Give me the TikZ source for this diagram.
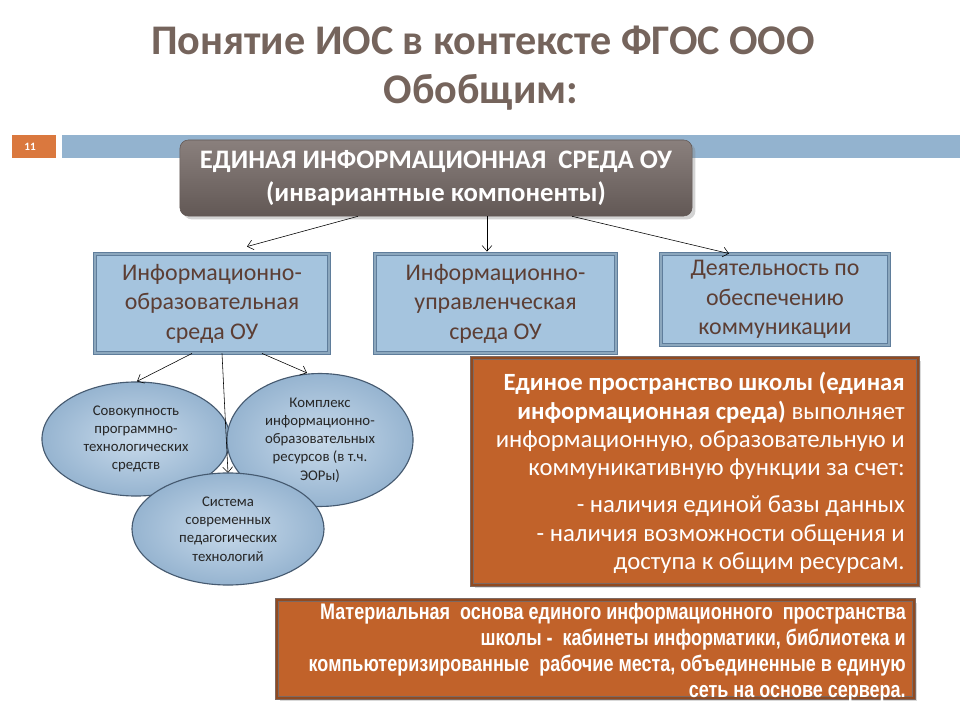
\documentclass[tikz,border=0pt]{standalone}
\usepackage{fontspec}
\setmainfont{Carlito}
\newfontfamily\narrowfont[FakeStretch=0.8]{Liberation Sans}
\usetikzlibrary{calc,shapes.geometric,shadows,arrows.meta}
\definecolor{titlegray}{RGB}{117,100,92}
\definecolor{barblue}{RGB}{147,179,207}
\definecolor{numorange}{RGB}{218,120,62}
\definecolor{topdark}{RGB}{98,88,85}
\definecolor{toplight}{RGB}{138,128,125}
\definecolor{boxfill}{RGB}{165,196,222}
\definecolor{boxedge}{RGB}{95,125,155}
\definecolor{boxtext}{RGB}{92,62,52}
\definecolor{ellin}{RGB}{200,218,235}
\definecolor{ellout}{RGB}{150,180,208}
\definecolor{elledge}{RGB}{70,90,112}
\definecolor{rust}{RGB}{193,98,42}
\definecolor{rustedge}{RGB}{125,105,98}
\tikzset{
  >={Straight Barb[length=4pt,width=7pt]},
  titletext/.style={font=\bfseries\fontsize{30}{36}\selectfont, text=titlegray},
  topbox/.style={rounded corners=6pt, top color=toplight, bottom color=topdark,
    draw=topdark, drop shadow={opacity=0.35}, text=white, align=center,
    font=\bfseries\fontsize{19}{24}\selectfont},
  bluebox/.style={rectangle, fill=boxfill, draw=boxedge, line width=0.6pt,
    double=boxfill!85!black, double distance=1.2pt, text=boxtext, align=center,
    font=\fontsize{17}{21}\selectfont},
  bubble/.style={ellipse, inner color=ellin, outer color=ellout, draw=elledge,
    line width=0.8pt, align=center, text=black!85, font=\fontsize{10.5}{13}\selectfont},
  rustbox/.style={rectangle, fill=rust, draw=rustedge, line width=1pt,
    double=rust!75!black, double distance=1pt, drop shadow={opacity=0.3}, text=white},
  arr/.style={->, thin, black}
}
\begin{document}
\begin{tikzpicture}[x=0.025cm, y=-0.025cm]
  \useasboundingbox (0,0) rectangle (960,720);
  % title
  \node[titletext] (title) at (483,40) {Понятие ИОС в контексте ФГОС ООО};
  \node[titletext] (subtitle) at (481,92) {Обобщим:};
  % slide number and bar
  \fill[numorange] (12,135) rectangle (56,158);
  \node[text=white, font=\bfseries\fontsize{8}{9}\selectfont] (num) at (30,146.5) {11};
  \fill[barblue] (62,135) rectangle (960,158);
  % top box
  \node[topbox, minimum width=12.8cm, minimum height=1.9cm] (top) at (436,178)
    {ЕДИНАЯ ИНФОРМАЦИОННАЯ~~СРЕДА ОУ\\(инвариантные компоненты)};
  % three components
  \node[bluebox, minimum width=5.85cm, minimum height=2.475cm] (ios) at (212,303.5)
    {Информационно-\\образовательная\\среда ОУ};
  \node[bluebox, minimum width=6.025cm, minimum height=2.475cm] (ius) at (495.5,303.5)
    {Информационно-\\управленческая\\среда ОУ};
  \node[bluebox, minimum width=5.7cm, minimum height=2.275cm] (komm) at (775,299.5)
    {Деятельность по\\обеспечению\\коммуникации};
  \draw[arr] ($(top.south)+(-78,0)$) -- ($(ios.north)+(35,-7)$);
  \draw[arr] ($(top.south)+(51,0)$) -- ($(ius.north)+(-8.5,-2)$);
  \draw[arr] ($(top.south)+(136,0)$) -- ($(komm.north)+(-46,0)$);
  % bubbles
  \node[bubble, minimum width=4.7cm, minimum height=2.85cm] (sredstva) at (136,439)
    {Совокупность\\программно-\\технологических\\средств};
  \node[bubble, minimum width=4.65cm, minimum height=2.85cm] (resursy) at (320,440)
    {Комплекс\\информационно-\\образовательных\\ресурсов (в т.ч.\\ЭОРы)};
  \coordinate (sys) at (228,473);
  \draw[arr] ($(ios.south)+(-20,0)$) -- ($(sredstva.north)+(1,0)$);
  \draw[arr] ($(ios.south)+(10,0)$) -- (sys);
  \draw[arr] ($(ios.south)+(50,0)$) -- ($(resursy.north)+(-13,0)$);
  \node[bubble, minimum width=4.8cm, minimum height=2.8cm] (tech) at (228,529)
    {Система\\современных\\педагогических\\технологий};
  % orange boxes
  \node[rustbox, minimum width=11.15cm, minimum height=5.675cm] (space) at (695,471.5) {};
  \node[text=white, align=right, anchor=north east, inner sep=0pt,
    font=\fontsize{17.6}{20.2}\selectfont] (spacetext) at (905,372)
    {\textbf{Единое пространство школы (единая}\\
     \textbf{информационная среда)} выполняет\\
     информационную, образовательную и\\
     коммуникативную функции за счет:\\[6pt]
     - наличия единой базы данных\\
     - наличия возможности общения и\\
     доступа к общим ресурсам.};
  \node[rustbox, minimum width=15.925cm, minimum height=2.45cm] (base) at (595.5,649) {};
  \node[text=white, align=right, anchor=north east, inner sep=0pt,
    font=\narrowfont\bfseries\fontsize{16}{18.5}\selectfont] (basetext) at (906,603)
    {Материальная~ основа единого информационного~ пространства\\
     школы -~ кабинеты информатики, библиотека и\\
     компьютеризированные~ рабочие места, объединенные в единую\\
     сеть на основе сервера.};
\end{tikzpicture}
\end{document}
